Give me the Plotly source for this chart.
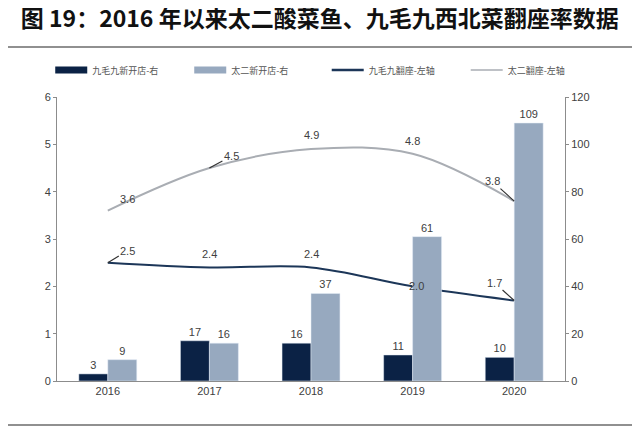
import plotly.graph_objects as go

years = ["2016", "2017", "2018", "2019", "2020"]
jmj_new_stores = [3, 17, 16, 11, 10]
taier_new_stores = [9, 16, 37, 61, 109]
jmj_turnover = [2.5, 2.4, 2.4, 2.0, 1.7]
taier_turnover = [3.6, 4.5, 4.9, 4.8, 3.8]

names = ["九毛九新开店-右", "太二新开店-右", "九毛九翻座-左轴", "太二翻座-左轴"]
title = "图 19：2016 年以来太二酸菜鱼、九毛九西北菜翻座率数据"

NAVY = "#0b2245"
GREY_BAR = "#97a9bf"
NAVY_LINE = "#1c3658"
GREY_LINE = "#a9adb3"
TXT = "#404040"
num_font = dict(family="Liberation Sans", size=11, color=TXT)

fig = go.Figure()

fig.add_trace(go.Bar(
    x=years, y=jmj_new_stores, name=names[0], yaxis="y2", showlegend=False,
    marker_color=NAVY, text=jmj_new_stores, textposition="outside",
    textfont=num_font))
fig.add_trace(go.Bar(
    x=years, y=taier_new_stores, name=names[1], yaxis="y2", showlegend=False,
    marker_color=GREY_BAR, text=taier_new_stores, textposition="outside",
    textfont=num_font))
fig.add_trace(go.Scatter(
    x=years, y=jmj_turnover, name=names[2], mode="lines", showlegend=False,
    line=dict(color=NAVY_LINE, width=2, shape="spline")))
fig.add_trace(go.Scatter(
    x=years, y=taier_turnover, name=names[3], mode="lines", showlegend=False,
    line=dict(color=GREY_LINE, width=2, shape="spline")))

# legend-only entries (bars drawn as thick strokes like the original)
# split over two legends so the row does not wrap
for nm, col, w, lg in zip(names, [NAVY, GREY_BAR, NAVY_LINE, GREY_LINE],
                          [7, 7, 2.5, 1.5], ["legend", "legend", "legend2", "legend2"]):
    fig.add_trace(go.Scatter(x=[years[0]], y=[None], name=nm, mode="lines",
                             line=dict(color=col, width=w), legend=lg))

# label placement for the line values: (dx, dy, arrow?)
# annotations use the category index, a numeric-looking string would be read as an index
jmj_place = [(20, -12, True), (0, 13, False), (0, 13, False), (4, 0, False), (-20, -18, True)]
taier_place = [(20, 12, False), (22, -12, True), (0, 14, False), (0, 13, False), (-22, -20, True)]
for vals, place in ((jmj_turnover, jmj_place), (taier_turnover, taier_place)):
    for i, (v, (dx, dy, arrow)) in enumerate(zip(vals, place)):
        if arrow:
            fig.add_annotation(x=i, y=v, text=f"{v:.1f}", showarrow=True,
                               ax=dx, ay=dy, arrowhead=0, arrowwidth=1.2,
                               arrowcolor="#333333", font=num_font)
        else:
            fig.add_annotation(x=i, y=v, text=f"{v:.1f}", showarrow=False,
                               xshift=dx, yshift=dy, font=num_font)

legend_style = dict(orientation="h", xref="container", yref="container", y=0.855,
                    xanchor="left", yanchor="middle", bgcolor="rgba(0,0,0,0)",
                    font=dict(family="Noto Sans CJK SC", size=9, color="#555555"),
                    entrywidth=92, itemwidth=32)

fig.update_layout(
    width=640, height=428,
    margin=dict(l=49, r=83, t=89, b=55, autoexpand=False),
    paper_bgcolor="white", plot_bgcolor="white",
    barmode="group", bargap=0.43, bargroupgap=0,
    font=dict(family="Noto Sans CJK SC", color=TXT),
    title=dict(text="<b>" + title + "</b>", x=0.02, xanchor="left", y=0.974,
               yanchor="middle",
               font=dict(family="Noto Sans CJK SC", size=23, color="#111111")),
    legend=dict(x=0.066, **legend_style),
    legend2=dict(x=0.498, **legend_style),
    xaxis=dict(type="category", range=[-0.5, 4.5], showline=True, linecolor="#8c8c8c",
               ticks="", tickfont=num_font, showgrid=False),
    yaxis=dict(range=[0, 6], dtick=1, showline=True, linecolor="#8c8c8c",
               ticks="outside", ticklen=3, tickcolor="#8c8c8c", showgrid=False,
               tickfont=num_font, zeroline=False),
    yaxis2=dict(range=[0, 120], dtick=20, overlaying="y", side="right",
                showline=True, linecolor="#8c8c8c", ticks="outside", ticklen=3,
                tickcolor="#8c8c8c", showgrid=False, tickfont=num_font, zeroline=False),
    shapes=[
        dict(type="line", xref="paper", yref="paper", x0=-0.0965, x1=1.136,
             y0=1.176, y1=1.176, line=dict(color="#222222", width=1.2)),
        dict(type="line", xref="paper", yref="paper", x0=-0.0965, x1=1.136,
             y0=-0.155, y1=-0.155, line=dict(color="#222222", width=1.2)),
    ],
)

fig.write_html("out.html")
